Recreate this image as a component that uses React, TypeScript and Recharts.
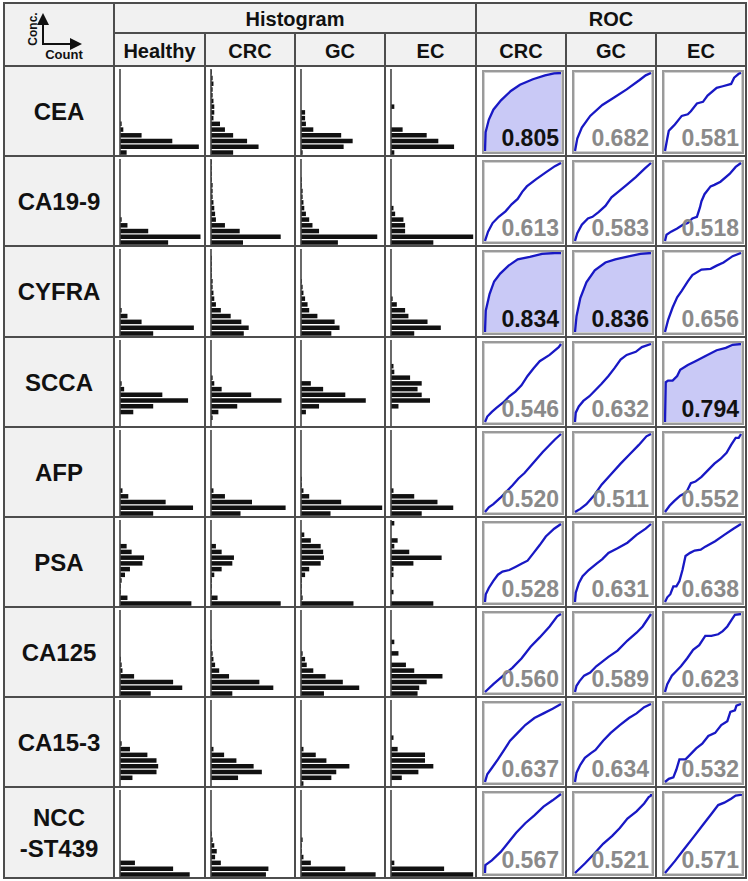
import React from 'react';
import { BarChart, Bar, XAxis, YAxis, ReferenceLine, AreaChart, Area } from 'recharts';

const markers = ['CEA', 'CA19-9', 'CYFRA', 'SCCA', 'AFP', 'PSA', 'CA125', 'CA15-3', 'NCC\n-ST439'];
const histGroups = ['Healthy', 'CRC', 'GC', 'EC'];
const rocGroups = ['CRC', 'GC', 'EC'];

// histogram counts per concentration bin, lowest bin first (15 bins)
const ceaHealthy = [8, 95, 63, 26, 4, 2, 0, 0, 0, 0, 0, 0, 0, 0, 0];
const ceaCrc = [27, 58, 44, 27, 17, 11, 3, 4, 4, 3, 2, 2, 3, 2, 1];
const ceaGc = [2, 52, 63, 49, 15, 6, 5, 5, 0, 0, 0, 0, 0, 0, 0];
const ceaEc = [4, 76, 57, 43, 14, 0, 0, 0, 4, 0, 0, 0, 0, 0, 0];

const ca199Healthy = [58, 97, 34, 9, 2, 0, 0, 0, 0, 0, 0, 0, 0, 0, 0];
const ca199Crc = [39, 85, 35, 17, 6, 5, 4, 3, 2, 2, 2, 1, 1, 1, 1];
const ca199Gc = [45, 93, 22, 14, 10, 6, 4, 3, 2, 2, 1, 1, 0, 0, 0];
const ca199Ec = [51, 99, 17, 17, 15, 5, 3, 0, 0, 0, 0, 0, 0, 0, 0];

const cyfraHealthy = [40, 89, 26, 9, 2, 0, 0, 0, 0, 0, 0, 0, 0, 0, 0];
const cyfraCrc = [40, 46, 37, 24, 12, 6, 4, 3, 2, 2, 1, 1, 1, 1, 0];
const cyfraGc = [37, 47, 41, 20, 10, 8, 5, 3, 2, 1, 0, 0, 0, 0, 0];
const cyfraEc = [28, 60, 44, 21, 17, 7, 2, 0, 0, 0, 0, 0, 0, 0, 0];

const sccaHealthy = [0, 0, 16, 40, 82, 51, 5, 2, 0, 0, 0, 0, 0, 0, 0];
const sccaCrc = [0, 2, 9, 32, 86, 49, 13, 4, 2, 0, 0, 0, 0, 0, 0];
const sccaGc = [0, 0, 6, 22, 79, 54, 27, 12, 0, 0, 0, 0, 0, 0, 0];
const sccaEc = [0, 0, 0, 9, 47, 37, 32, 37, 23, 4, 3, 0, 0, 0, 0];

const afpHealthy = [40, 88, 55, 10, 3, 0, 0, 0, 0, 0, 0, 0, 0, 0, 0];
const afpCrc = [36, 91, 50, 17, 3, 0, 0, 0, 0, 0, 0, 0, 0, 0, 0];
const afpGc = [36, 99, 49, 10, 3, 1, 1, 0, 0, 0, 0, 0, 0, 0, 0];
const afpEc = [37, 75, 56, 28, 3, 0, 0, 0, 0, 0, 0, 0, 0, 0, 0];

const psaHealthy = [86, 9, 1, 1, 2, 6, 12, 27, 29, 14, 8, 0, 0, 0, 0];
const psaCrc = [85, 8, 1, 1, 1, 4, 13, 26, 28, 13, 6, 0, 0, 0, 0];
const psaGc = [64, 2, 1, 1, 1, 5, 10, 24, 28, 27, 24, 12, 4, 0, 0];
const psaEc = [51, 0, 3, 0, 0, 3, 3, 27, 61, 22, 4, 8, 0, 0, 4];

const ca125Healthy = [37, 75, 64, 17, 3, 2, 1, 0, 0, 0, 0, 0, 0, 0, 0];
const ca125Crc = [26, 76, 59, 22, 10, 5, 3, 2, 1, 1, 0, 0, 0, 0, 0];
const ca125Gc = [28, 71, 51, 30, 15, 7, 5, 2, 0, 0, 0, 0, 0, 0, 0];
const ca125Ec = [32, 34, 43, 62, 28, 18, 0, 9, 0, 4, 0, 0, 0, 0, 0];

const ca153Healthy = [0, 15, 44, 46, 44, 33, 12, 2, 0, 0, 0, 0, 0, 0, 0];
const ca153Crc = [0, 33, 62, 52, 31, 16, 3, 0, 0, 0, 0, 0, 0, 0, 0];
const ca153Gc = [3, 37, 43, 59, 31, 18, 3, 0, 0, 0, 0, 0, 0, 0, 0];
const ca153Ec = [0, 13, 33, 51, 41, 41, 8, 0, 3, 0, 0, 0, 0, 0, 0];

const nccHealthy = [84, 64, 18, 0, 0, 0, 0, 0, 0, 0, 0, 0, 0, 0, 0];
const nccCrc = [67, 70, 12, 5, 7, 4, 2, 1, 0, 0, 0, 0, 0, 0, 0];
const nccGc = [91, 54, 12, 3, 1, 1, 2, 0, 0, 0, 0, 0, 0, 0, 0];
const nccEc = [99, 64, 4, 0, 0, 0, 0, 0, 0, 0, 0, 0, 0, 0, 0];

// ROC curves as [false positive rate, true positive rate]
const rocCeaCrc = [[0, 0], [0.008, 0.24], [0.05, 0.4], [0.11, 0.53], [0.21, 0.65], [0.34, 0.77], [0.46, 0.85], [0.63, 0.92], [0.79, 0.97], [0.91, 0.995], [1, 1]];
const rocCeaGc = [[0, 0], [0.03, 0.16], [0.09, 0.3], [0.2, 0.45], [0.36, 0.59], [0.52, 0.69], [0.68, 0.79], [0.85, 0.91], [0.93, 0.97], [1, 1]];
const rocCeaEc = [[0, 0], [0.03, 0.16], [0.05, 0.26], [0.09, 0.3], [0.13, 0.34], [0.22, 0.45], [0.3, 0.47], [0.34, 0.51], [0.42, 0.61], [0.5, 0.63], [0.56, 0.71], [0.68, 0.81], [0.76, 0.83], [0.87, 0.86], [0.91, 0.94], [0.97, 0.99], [1, 1]];
const rocCa199Crc = [[0, 0], [0.04, 0.12], [0.1, 0.23], [0.18, 0.31], [0.27, 0.38], [0.35, 0.47], [0.43, 0.54], [0.49, 0.63], [0.55, 0.7], [0.67, 0.79], [0.8, 0.88], [0.92, 0.96], [1, 1]];
const rocCa199Gc = [[0, 0], [0.03, 0.1], [0.09, 0.21], [0.17, 0.29], [0.23, 0.31], [0.31, 0.37], [0.4, 0.45], [0.48, 0.56], [0.58, 0.64], [0.68, 0.72], [0.8, 0.82], [0.92, 0.93], [1, 1]];
const rocCa199Ec = [[0, 0], [0.02, 0.08], [0.08, 0.12], [0.16, 0.16], [0.24, 0.21], [0.3, 0.23], [0.36, 0.29], [0.42, 0.31], [0.46, 0.43], [0.48, 0.51], [0.52, 0.6], [0.6, 0.7], [0.65, 0.72], [0.73, 0.76], [0.85, 0.86], [0.93, 0.95], [1, 1]];
const rocCyfraCrc = [[0, 0], [0.01, 0.27], [0.06, 0.48], [0.12, 0.64], [0.2, 0.74], [0.31, 0.84], [0.43, 0.92], [0.59, 0.95], [0.75, 0.99], [0.92, 1], [1, 1]];
const rocCyfraGc = [[0, 0], [0.02, 0.2], [0.07, 0.43], [0.15, 0.63], [0.26, 0.78], [0.4, 0.88], [0.53, 0.92], [0.72, 0.96], [0.86, 0.99], [1, 1]];
const rocCyfraEc = [[0, 0], [0.04, 0.15], [0.1, 0.31], [0.16, 0.44], [0.22, 0.52], [0.3, 0.64], [0.36, 0.72], [0.48, 0.79], [0.6, 0.8], [0.68, 0.84], [0.77, 0.88], [0.89, 0.96], [1, 1]];
const rocSccaCrc = [[0, 0], [0.03, 0.07], [0.09, 0.13], [0.15, 0.18], [0.24, 0.25], [0.32, 0.33], [0.4, 0.39], [0.48, 0.47], [0.56, 0.59], [0.64, 0.69], [0.72, 0.78], [0.85, 0.86], [0.97, 0.96], [1, 1]];
const rocSccaGc = [[0, 0], [0.01, 0.12], [0.05, 0.2], [0.11, 0.27], [0.19, 0.33], [0.27, 0.41], [0.35, 0.49], [0.44, 0.59], [0.52, 0.69], [0.6, 0.8], [0.68, 0.86], [0.8, 0.9], [0.88, 0.96], [1, 1]];
const rocSccaEc = [[0, 0], [0.01, 0.51], [0.04, 0.53], [0.1, 0.53], [0.16, 0.59], [0.2, 0.67], [0.3, 0.73], [0.4, 0.78], [0.52, 0.84], [0.68, 0.92], [0.8, 0.95], [0.89, 0.99], [1, 1]];
const rocAfpCrc = [[0, 0], [0.05, 0.06], [0.11, 0.1], [0.2, 0.18], [0.28, 0.26], [0.36, 0.34], [0.44, 0.43], [0.52, 0.5], [0.6, 0.59], [0.68, 0.68], [0.76, 0.77], [0.84, 0.85], [0.92, 0.93], [1, 1]];
const rocAfpGc = [[0, 0], [0.07, 0.04], [0.15, 0.1], [0.25, 0.21], [0.35, 0.35], [0.48, 0.49], [0.6, 0.62], [0.72, 0.74], [0.84, 0.86], [0.94, 0.97], [1, 1]];
const rocAfpEc = [[0, 0], [0.06, 0.08], [0.12, 0.14], [0.2, 0.21], [0.28, 0.25], [0.34, 0.37], [0.4, 0.39], [0.48, 0.45], [0.56, 0.53], [0.65, 0.62], [0.73, 0.68], [0.81, 0.76], [0.87, 0.86], [0.93, 0.95], [0.97, 0.95], [1, 1]];
const rocPsaCrc = [[0, 0], [0.01, 0.1], [0.05, 0.18], [0.11, 0.27], [0.17, 0.35], [0.23, 0.39], [0.32, 0.41], [0.4, 0.45], [0.48, 0.49], [0.56, 0.53], [0.64, 0.63], [0.72, 0.73], [0.8, 0.84], [0.91, 0.94], [1, 1]];
const rocPsaGc = [[0, 0], [0.01, 0.12], [0.05, 0.24], [0.1, 0.33], [0.18, 0.41], [0.28, 0.49], [0.36, 0.55], [0.44, 0.63], [0.56, 0.69], [0.69, 0.76], [0.81, 0.86], [0.93, 0.94], [1, 1]];
const rocPsaEc = [[0, 0], [0.03, 0.06], [0.07, 0.1], [0.11, 0.2], [0.15, 0.2], [0.19, 0.27], [0.23, 0.41], [0.27, 0.59], [0.33, 0.63], [0.39, 0.66], [0.47, 0.67], [0.53, 0.71], [0.66, 0.78], [0.78, 0.86], [0.9, 0.94], [1, 1]];
const rocCa125Crc = [[0, 0], [0.11, 0.1], [0.24, 0.21], [0.36, 0.31], [0.48, 0.43], [0.6, 0.58], [0.72, 0.7], [0.85, 0.84], [0.95, 0.97], [1, 1]];
const rocCa125Gc = [[0, 0], [0.02, 0.08], [0.06, 0.14], [0.12, 0.21], [0.2, 0.25], [0.28, 0.33], [0.36, 0.39], [0.44, 0.45], [0.56, 0.53], [0.69, 0.66], [0.81, 0.76], [0.89, 0.84], [1, 1]];
const rocCa125Ec = [[0, 0], [0.03, 0.1], [0.09, 0.21], [0.15, 0.27], [0.21, 0.33], [0.29, 0.43], [0.37, 0.54], [0.45, 0.6], [0.53, 0.72], [0.61, 0.72], [0.7, 0.74], [0.76, 0.78], [0.82, 0.84], [0.88, 0.93], [0.92, 0.99], [1, 1]];
const rocCa153Crc = [[0, 0], [0.03, 0.1], [0.09, 0.18], [0.17, 0.29], [0.25, 0.41], [0.33, 0.53], [0.43, 0.63], [0.53, 0.73], [0.65, 0.82], [0.77, 0.88], [0.89, 0.94], [1, 1]];
const rocCa153Gc = [[0, 0], [0.02, 0.12], [0.07, 0.22], [0.13, 0.31], [0.21, 0.37], [0.27, 0.41], [0.37, 0.53], [0.47, 0.63], [0.59, 0.73], [0.71, 0.82], [0.81, 0.88], [0.91, 0.96], [1, 1]];
const rocCa153Ec = [[0, 0], [0.05, 0.04], [0.11, 0.06], [0.15, 0.16], [0.19, 0.29], [0.27, 0.29], [0.35, 0.37], [0.41, 0.43], [0.49, 0.49], [0.57, 0.59], [0.66, 0.63], [0.74, 0.73], [0.82, 0.78], [0.86, 0.9], [0.92, 0.92], [0.94, 0.98], [1, 1]];
const rocNccCrc = [[0, 0], [0.005, 0.1], [0.09, 0.16], [0.21, 0.27], [0.31, 0.39], [0.41, 0.51], [0.53, 0.63], [0.65, 0.73], [0.77, 0.84], [0.89, 0.92], [1, 1]];
const rocNccGc = [[0, 0], [0.13, 0.12], [0.25, 0.24], [0.37, 0.37], [0.49, 0.47], [0.59, 0.57], [0.69, 0.69], [0.81, 0.78], [0.91, 0.88], [0.97, 0.96], [1, 0.98], [1, 1]];
const rocNccEc = [[0, 0], [0.13, 0.15], [0.25, 0.3], [0.38, 0.46], [0.5, 0.61], [0.62, 0.76], [0.7, 0.86], [0.78, 0.89], [0.87, 0.94], [0.93, 0.98], [1, 0.99], [1, 1]];

const aucCrc = [0.805, 0.613, 0.834, 0.546, 0.52, 0.528, 0.56, 0.637, 0.567];
const aucGc = [0.682, 0.583, 0.836, 0.632, 0.511, 0.631, 0.589, 0.634, 0.521];
const aucEc = [0.581, 0.518, 0.656, 0.794, 0.552, 0.638, 0.623, 0.532, 0.571];

const histTable = [
  [ceaHealthy, ceaCrc, ceaGc, ceaEc],
  [ca199Healthy, ca199Crc, ca199Gc, ca199Ec],
  [cyfraHealthy, cyfraCrc, cyfraGc, cyfraEc],
  [sccaHealthy, sccaCrc, sccaGc, sccaEc],
  [afpHealthy, afpCrc, afpGc, afpEc],
  [psaHealthy, psaCrc, psaGc, psaEc],
  [ca125Healthy, ca125Crc, ca125Gc, ca125Ec],
  [ca153Healthy, ca153Crc, ca153Gc, ca153Ec],
  [nccHealthy, nccCrc, nccGc, nccEc],
];
const rocTable = [
  [rocCeaCrc, rocCeaGc, rocCeaEc],
  [rocCa199Crc, rocCa199Gc, rocCa199Ec],
  [rocCyfraCrc, rocCyfraGc, rocCyfraEc],
  [rocSccaCrc, rocSccaGc, rocSccaEc],
  [rocAfpCrc, rocAfpGc, rocAfpEc],
  [rocPsaCrc, rocPsaGc, rocPsaEc],
  [rocCa125Crc, rocCa125Gc, rocCa125Ec],
  [rocCa153Crc, rocCa153Gc, rocCa153Ec],
  [rocNccCrc, rocNccGc, rocNccEc],
];
const aucTable = markers.map((_, i) => [aucCrc[i], aucGc[i], aucEc[i]]);

// grid layout
const COLS = [4, 114, 205, 295, 385, 476, 566, 656, 746];
const ROWS = [66, 156, 246, 337, 427, 517, 607, 697, 787, 878];
const TOP = 3;
const MID = 33;
const FONT = '"Liberation Sans", Arial, sans-serif';
const LINE = '#4d4d4d';
const SHADE = '#f1f1f1';

const HistCell = ({ counts, x, y, w, h }: { counts: number[]; x: number; y: number; w: number; h: number }) => {
  const data = counts.map((c, i) => ({ bin: i, count: c }));
  return (
    <div style={{ position: 'absolute', left: x, top: y, width: w, height: h }}>
      <BarChart layout="vertical" width={w} height={h} data={data} margin={{ top: 3, right: 2, bottom: 1, left: 6 }}>
        <XAxis type="number" domain={[0, 100]} hide />
        <YAxis type="category" dataKey="bin" hide reversed />
        <Bar dataKey="count" fill="#111" barSize={4.5} isAnimationActive={false} />
        <ReferenceLine x={0} stroke="#444" strokeWidth={1.6} />
      </BarChart>
    </div>
  );
};

const RocCell = ({ points, auc, x, y, w, h }: { points: number[][]; auc: number; x: number; y: number; w: number; h: number }) => {
  const data = points.map(([fpr, tpr]) => ({ fpr, tpr }));
  const strong = auc > 0.75;
  const bw = w - 8;
  const bh = h - 6;
  return (
    <div
      style={{
        position: 'absolute', left: x + 6, top: y + 4, width: bw, height: bh,
        boxSizing: 'border-box', border: '2px solid #9a9a9a', boxShadow: 'inset 0 0 0 1px #d0d0d0', background: '#fff',
      }}
    >
      <AreaChart width={bw - 4} height={bh - 4} data={data} margin={{ top: 1, right: 1, bottom: 1, left: 1 }}>
        <XAxis type="number" dataKey="fpr" domain={[0, 1]} hide />
        <YAxis type="number" domain={[0, 1]} hide />
        <Area
          type="linear"
          dataKey="tpr"
          stroke="#1818c4"
          strokeWidth={2.3}
          fill={strong ? '#c9c9f6' : 'none'}
          fillOpacity={1}
          dot={false}
          activeDot={false}
          isAnimationActive={false}
        />
      </AreaChart>
      <div
        style={{
          position: 'absolute', right: 3, bottom: 1, fontFamily: FONT, fontWeight: 'bold', fontSize: 23,
          lineHeight: '26px', color: strong ? '#111' : '#8a8a8a',
        }}
      >
        {auc.toFixed(3)}
      </div>
    </div>
  );
};

const App: React.FC = () => {
  const vLines = [
    { x: COLS[0], y0: TOP, y1: ROWS[9] },
    { x: COLS[1], y0: TOP, y1: ROWS[9] },
    { x: COLS[2], y0: MID, y1: ROWS[9] },
    { x: COLS[3], y0: MID, y1: ROWS[9] },
    { x: COLS[4], y0: MID, y1: ROWS[9] },
    { x: COLS[5], y0: TOP, y1: ROWS[9] },
    { x: COLS[6], y0: MID, y1: ROWS[9] },
    { x: COLS[7], y0: MID, y1: ROWS[9] },
    { x: COLS[8], y0: TOP, y1: ROWS[9] },
  ];
  const hLines = [
    { y: TOP, x0: COLS[0], x1: COLS[8] },
    { y: MID, x0: COLS[1], x1: COLS[8] },
    ...ROWS.map((r) => ({ y: r, x0: COLS[0], x1: COLS[8] })),
  ];
  const headText = { fontFamily: FONT, fontWeight: 'bold' as const, fontSize: 20, color: '#111' };

  return (
    <div style={{ position: 'absolute', left: 0, top: 0, width: 748, height: 881, background: '#fff' }}>
      {/* shaded header and label areas */}
      <div style={{ position: 'absolute', left: COLS[0], top: TOP, width: COLS[8] - COLS[0], height: ROWS[0] - TOP, background: SHADE }} />
      <div style={{ position: 'absolute', left: COLS[0], top: ROWS[0], width: COLS[1] - COLS[0], height: ROWS[9] - ROWS[0], background: SHADE }} />

      {/* axis legend */}
      <svg style={{ position: 'absolute', left: COLS[0], top: TOP }} width={110} height={63}>
        <defs>
          <marker id="ah" markerWidth="6" markerHeight="6" refX="5" refY="3" orient="auto">
            <path d="M0,0 L6,3 L0,6 z" fill="#111" />
          </marker>
        </defs>
        <line x1={39} y1={41} x2={39} y2={12} stroke="#111" strokeWidth={2} markerEnd="url(#ah)" />
        <line x1={38} y1={41} x2={76} y2={41} stroke="#111" strokeWidth={2} markerEnd="url(#ah)" />
        <text x={33} y={26} transform="rotate(-90 33 26)" textAnchor="middle" fontFamily={FONT} fontWeight="bold" fontSize={12} fill="#111">
          Conc.
        </text>
        <text x={60} y={56} textAnchor="middle" fontFamily={FONT} fontWeight="bold" fontSize={13} fill="#111">
          Count
        </text>
      </svg>

      {/* headers */}
      <div style={{ ...headText, position: 'absolute', left: COLS[1], top: TOP + 3, width: COLS[5] - COLS[1], height: MID - TOP - 3, display: 'flex', alignItems: 'center', justifyContent: 'center' }}>
        Histogram
      </div>
      <div style={{ ...headText, position: 'absolute', left: COLS[5], top: TOP + 3, width: COLS[8] - COLS[5], height: MID - TOP - 3, display: 'flex', alignItems: 'center', justifyContent: 'center' }}>
        ROC
      </div>
      {[...histGroups, ...rocGroups].map((g, i) => (
        <div
          key={'h' + i}
          style={{ ...headText, position: 'absolute', left: COLS[1 + i], top: MID + 3, width: COLS[2 + i] - COLS[1 + i], height: ROWS[0] - MID - 3, display: 'flex', alignItems: 'center', justifyContent: 'center' }}
        >
          {g}
        </div>
      ))}

      {/* marker labels */}
      {markers.map((m, r) => (
        <div
          key={'m' + r}
          style={{
            position: 'absolute', left: COLS[0], top: ROWS[r], width: COLS[1] - COLS[0], height: ROWS[r + 1] - ROWS[r],
            display: 'flex', alignItems: 'center', justifyContent: 'center', textAlign: 'center', whiteSpace: 'pre',
            fontFamily: FONT, fontWeight: 'bold', fontSize: 24, lineHeight: '31px', color: '#111',
          }}
        >
          {m}
        </div>
      ))}

      {/* histograms */}
      {histTable.map((row, r) =>
        row.map((counts, g) => (
          <HistCell
            key={`hist-${r}-${g}`}
            counts={counts}
            x={COLS[1 + g]}
            y={ROWS[r]}
            w={COLS[2 + g] - COLS[1 + g]}
            h={ROWS[r + 1] - ROWS[r]}
          />
        ))
      )}

      {/* ROC curves */}
      {rocTable.map((row, r) =>
        row.map((points, g) => (
          <RocCell
            key={`roc-${r}-${g}`}
            points={points}
            auc={aucTable[r][g]}
            x={COLS[5 + g]}
            y={ROWS[r]}
            w={COLS[6 + g] - COLS[5 + g]}
            h={ROWS[r + 1] - ROWS[r]}
          />
        ))
      )}

      {/* grid lines */}
      {vLines.map((l, i) => (
        <div key={'v' + i} style={{ position: 'absolute', left: l.x - 0.75, top: l.y0 - 0.75, width: 1.5, height: l.y1 - l.y0 + 1.5, background: LINE }} />
      ))}
      {hLines.map((l, i) => (
        <div key={'hl' + i} style={{ position: 'absolute', left: l.x0 - 0.75, top: l.y - 0.75, width: l.x1 - l.x0 + 1.5, height: 1.5, background: LINE }} />
      ))}
    </div>
  );
};

export default App;
